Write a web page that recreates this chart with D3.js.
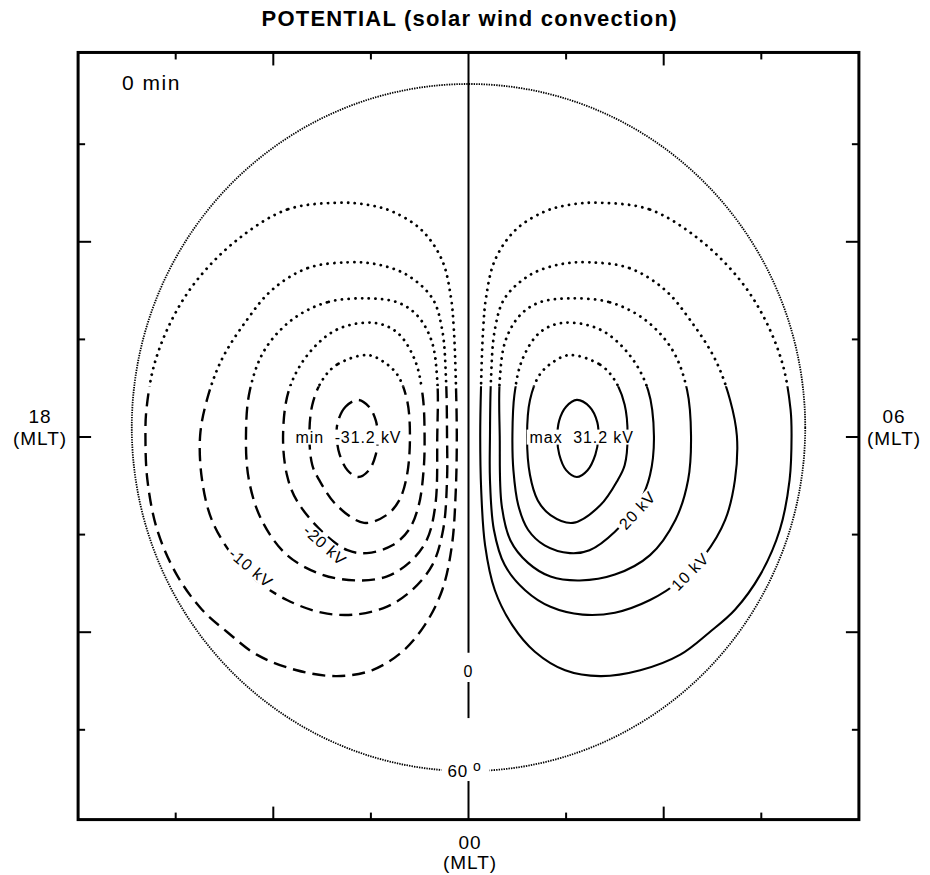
<!DOCTYPE html>
<html><head><meta charset="utf-8">
<script src="https://cdn.jsdelivr.net/npm/d3@7/dist/d3.min.js"></script>
<style>body{margin:0;background:#fff} text{font-family:"Liberation Sans",Arial,Helvetica,sans-serif;fill:#000;white-space:pre}</style>
</head><body><svg id="c" width="930" height="875"></svg>
<script>
// ---------- DATA (chart units: 1 unit = one frame tick; origin = pole) ----------
const levels = [5, 10, 15, 20, 25, 30];           // kV contour levels
const maxPotential = 31.2, minPotential = -31.2;
const boundaryRx = 3.45, boundaryRy = 3.52, boundaryCy = 0.097;   // 60 deg latitude boundary (units)
const styleSwitchY = 0.52;                        // above: dotted (dayside) ; below: solid / dashed
const xTicks = [-3, -2, -1, 1, 2, 3];
const yTicks = [-3, -2, -1, 0, 1, 2, 3];
const longTicks = [-2, 0, 2];

const pos30 = [[1.11,0.38],[1.24,0.31],[1.32,0.15],[1.33,-0.01],[1.30,-0.18],[1.22,-0.34],[1.11,-0.41],[1.00,-0.34],[0.93,-0.18],[0.91,-0.01],[0.93,0.17],[1.00,0.31]];
const pos25 = [[1.04,0.84],[1.35,0.74],[1.50,0.58],[1.60,0.33],[1.63,0.01],[1.60,-0.29],[1.53,-0.44],[1.35,-0.70],[1.07,-0.88],[0.84,-0.80],[0.71,-0.65],[0.63,-0.39],[0.60,0.01],[0.63,0.38],[0.73,0.64],[0.87,0.77]];
const pos20 = [[0.97,1.17],[1.35,1.10],[1.65,0.84],[1.84,0.48],[1.90,0.01],[1.86,-0.39],[1.76,-0.65],[1.50,-0.97],[1.24,-1.16],[1.04,-1.19],[0.78,-1.11],[0.61,-0.95],[0.51,-0.70],[0.46,-0.34],[0.45,0.01],[0.47,0.43],[0.55,0.79],[0.73,1.07]];
const pos15 = [[1.04,1.42],[1.45,1.38],[1.81,1.20],[2.09,0.89],[2.24,0.48],[2.28,0.01],[2.25,-0.44],[2.12,-0.85],[1.86,-1.21],[1.50,-1.41],[1.14,-1.47],[0.84,-1.43],[0.61,-1.29],[0.43,-1.06],[0.34,-0.70],[0.32,0.01],[0.32,0.58],[0.38,0.99],[0.53,1.25],[0.73,1.38]];
const pos10 = [[1.24,1.79],[1.65,1.73],[2.01,1.51],[2.27,1.20],[2.53,0.79],[2.68,0.38],[2.75,0.01],[2.73,-0.44],[2.63,-0.85],[2.42,-1.21],[2.17,-1.47],[1.86,-1.67],[1.50,-1.80],[1.17,-1.82],[0.84,-1.74],[0.58,-1.57],[0.37,-1.31],[0.26,-0.95],[0.22,-0.44],[0.22,0.01],[0.23,0.58],[0.27,1.10],[0.37,1.42],[0.63,1.66],[0.94,1.77]];
const pos5 = [[1.35,2.40],[1.86,2.33],[2.37,2.02],[2.78,1.61],[3.04,1.20],[3.22,0.74],[3.30,0.28],[3.31,0.01],[3.29,-0.44],[3.19,-0.95],[2.99,-1.41],[2.73,-1.77],[2.47,-2.00],[2.17,-2.23],[1.76,-2.39],[1.35,-2.45],[0.99,-2.39],[0.68,-2.20],[0.45,-1.93],[0.27,-1.57],[0.17,-1.11],[0.13,-0.54],[0.12,0.01],[0.13,0.58],[0.15,1.10],[0.18,1.43],[0.27,1.81],[0.48,2.12],[0.78,2.31],[1.04,2.38]];

const neg30 = [[-1.13,0.38],[-1.26,0.31],[-1.34,0.15],[-1.35,-0.01],[-1.32,-0.18],[-1.24,-0.34],[-1.13,-0.41],[-1.02,-0.34],[-0.95,-0.18],[-0.93,-0.01],[-0.95,0.17],[-1.02,0.31]];
const neg25 = [[-1.04,0.84],[-1.35,0.74],[-1.50,0.58],[-1.60,0.33],[-1.63,0.01],[-1.60,-0.29],[-1.53,-0.44],[-1.35,-0.70],[-1.07,-0.88],[-0.84,-0.80],[-0.71,-0.65],[-0.63,-0.39],[-0.60,0.01],[-0.63,0.38],[-0.73,0.64],[-0.87,0.77]];
const neg20 = [[-0.97,1.17],[-1.35,1.10],[-1.65,0.84],[-1.84,0.48],[-1.90,0.01],[-1.86,-0.39],[-1.76,-0.65],[-1.50,-0.97],[-1.24,-1.16],[-1.04,-1.19],[-0.78,-1.11],[-0.61,-0.95],[-0.51,-0.70],[-0.46,-0.34],[-0.45,0.01],[-0.47,0.43],[-0.55,0.79],[-0.73,1.07]];
const neg15 = [[-1.04,1.42],[-1.45,1.38],[-1.81,1.20],[-2.09,0.89],[-2.24,0.48],[-2.28,0.01],[-2.25,-0.44],[-2.12,-0.85],[-1.86,-1.21],[-1.50,-1.41],[-1.14,-1.47],[-0.84,-1.43],[-0.61,-1.29],[-0.43,-1.06],[-0.34,-0.70],[-0.32,0.01],[-0.32,0.58],[-0.38,0.99],[-0.53,1.25],[-0.73,1.38]];
const neg10 = [[-1.24,1.79],[-1.65,1.73],[-2.01,1.51],[-2.27,1.20],[-2.53,0.79],[-2.68,0.38],[-2.75,0.01],[-2.73,-0.44],[-2.63,-0.85],[-2.42,-1.21],[-2.17,-1.47],[-1.86,-1.67],[-1.50,-1.80],[-1.17,-1.82],[-0.84,-1.74],[-0.58,-1.57],[-0.37,-1.31],[-0.26,-0.95],[-0.22,-0.44],[-0.22,0.01],[-0.23,0.58],[-0.27,1.10],[-0.37,1.42],[-0.63,1.66],[-0.94,1.77]];
const neg5 = [[-1.35,2.40],[-1.86,2.33],[-2.37,2.02],[-2.78,1.61],[-3.04,1.20],[-3.22,0.74],[-3.30,0.28],[-3.31,0.01],[-3.29,-0.44],[-3.19,-0.95],[-2.99,-1.41],[-2.73,-1.77],[-2.47,-2.00],[-2.17,-2.23],[-1.76,-2.39],[-1.35,-2.45],[-0.99,-2.39],[-0.68,-2.20],[-0.45,-1.93],[-0.27,-1.57],[-0.17,-1.11],[-0.13,-0.54],[-0.12,0.01],[-0.13,0.58],[-0.15,1.10],[-0.18,1.43],[-0.27,1.81],[-0.48,2.12],[-0.78,2.31],[-1.04,2.38]];

const centerLineSegments = [[3.94, -2.21], [-2.51, -2.88], [-3.38, -3.92]];

const labelTexts  = ["max  31.2 kV", "min  -31.2 kV", "20 kV", "10 kV", "-20 kV", "-10 kV", "0"];
const labelX      = [1.16, -1.23, 1.73, 2.27, -1.47, -2.23, 0.0];
const labelY      = [0.0, 0.0, -0.75, -1.38, -1.11, -1.34, -2.40];
const labelAngle  = [0, 0, -47, -45, 42, 40, 0];

// ---------- SCALES ----------
const svg = d3.select("#c");
const cx = 468.5, cy = 437, unit = 97.6;
const x = d3.scaleLinear().domain([-4, 4]).range([cx - 4 * unit, cx + 4 * unit]);
const y = d3.scaleLinear().domain([-4, 4]).range([cy + 4 * unit, cy - 4 * unit]);
const frameX = 4, frameTop = 3.94, frameBottom = -3.92;

const defs = svg.append("defs");
defs.append("clipPath").attr("id", "upper").append("rect")
  .attr("x", 0).attr("y", 0).attr("width", 930).attr("height", y(styleSwitchY));
defs.append("clipPath").attr("id", "lower").append("rect")
  .attr("x", 0).attr("y", y(styleSwitchY)).attr("width", 930).attr("height", 875 - y(styleSwitchY));

// boundary (60 deg)
svg.append("ellipse").attr("cx", x(0)).attr("cy", y(boundaryCy))
  .attr("rx", x(boundaryRx) - x(0)).attr("ry", y(0) - y(boundaryRy))
  .attr("fill", "none").attr("stroke", "#000").attr("stroke-width", 1.8).attr("stroke-dasharray", "1.4,1.1");

const line = d3.line().x(d => x(d[0])).y(d => y(d[1])).curve(d3.curveCatmullRomClosed.alpha(0.5));
const contours = [
  {v: 5, p: pos5}, {v: 10, p: pos10}, {v: 15, p: pos15}, {v: 20, p: pos20}, {v: 25, p: pos25}, {v: 30, p: pos30},
  {v: -5, p: neg5}, {v: -10, p: neg10}, {v: -15, p: neg15}, {v: -20, p: neg20}, {v: -25, p: neg25}, {v: -30, p: neg30}
];
const g = svg.append("g");
contours.forEach(c => {
  g.append("path").attr("d", line(c.p)).attr("clip-path", "url(#lower)")
    .attr("fill", "none").attr("stroke", "#000").attr("stroke-width", c.v > 0 ? 2.1 : 2.4)
    .attr("stroke-dasharray", c.v > 0 ? null : "13,7");
  g.append("path").attr("d", line(c.p)).attr("clip-path", "url(#upper)")
    .attr("fill", "none").attr("stroke", "#000").attr("stroke-width", 2.8)
    .attr("stroke-linecap", "round").attr("stroke-dasharray", "0.1,6.6");
});

// zero line
centerLineSegments.forEach(s => {
  svg.append("line").attr("x1", x(0)).attr("x2", x(0)).attr("y1", y(s[0])).attr("y2", y(s[1]))
    .attr("stroke", "#000").attr("stroke-width", 2);
});

// contour labels with white backing
labelTexts.forEach((t, i) => {
  const lg = svg.append("g").attr("transform", `translate(${x(labelX[i])},${y(labelY[i])}) rotate(${labelAngle[i]})`);
  const r = lg.append("rect").attr("fill", "#fff");
  const tx = lg.append("text").attr("text-anchor", "middle").attr("dy", "0.35em")
    .attr("font-size", 16).attr("letter-spacing", 0.9).text(t);
  const b = tx.node().getBBox();
  r.attr("x", b.x - 3).attr("y", b.y + 1).attr("width", b.width + 6).attr("height", b.height - 2);
});

// 60 deg label
const lab60 = svg.append("g").attr("transform", `translate(${x(0) - 4},${y(boundaryCy - boundaryRy)})`);
const r60 = lab60.append("rect").attr("fill", "#fff");
const t60 = lab60.append("text").attr("text-anchor", "middle").attr("dy", "0.35em").attr("font-size", 17).attr("letter-spacing", 0.8);
t60.append("tspan").text("60");
t60.append("tspan").attr("dx", 5).attr("dy", -6).attr("font-size", 14).text("o");
const b60 = t60.node().getBBox();
r60.attr("x", b60.x - 6).attr("y", b60.y + 2).attr("width", b60.width + 14).attr("height", b60.height - 2);

// frame
svg.append("rect").attr("x", x(-frameX)).attr("y", y(frameTop)).attr("width", x(frameX) - x(-frameX))
  .attr("height", y(frameBottom) - y(frameTop)).attr("fill", "none").attr("stroke", "#000").attr("stroke-width", 3);
const tk = d => longTicks.includes(d) ? 13 : 7;
xTicks.forEach(d => {
  svg.append("line").attr("x1", x(d)).attr("x2", x(d)).attr("y1", y(frameTop)).attr("y2", y(frameTop) + tk(d)).attr("stroke", "#000").attr("stroke-width", 2);
  svg.append("line").attr("x1", x(d)).attr("x2", x(d)).attr("y1", y(frameBottom)).attr("y2", y(frameBottom) - tk(d)).attr("stroke", "#000").attr("stroke-width", 2);
});
yTicks.forEach(d => {
  svg.append("line").attr("x1", x(-frameX)).attr("x2", x(-frameX) + tk(d)).attr("y1", y(d)).attr("y2", y(d)).attr("stroke", "#000").attr("stroke-width", 2);
  svg.append("line").attr("x1", x(frameX)).attr("x2", x(frameX) - tk(d)).attr("y1", y(d)).attr("y2", y(d)).attr("stroke", "#000").attr("stroke-width", 2);
});

// texts
svg.append("text").attr("x", 469).attr("y", 26).attr("text-anchor", "middle").attr("font-size", 22)
  .attr("font-weight", "bold").attr("textLength", 415).attr("lengthAdjust", "spacing").text("POTENTIAL (solar wind convection)");
svg.append("text").attr("x", 122).attr("y", 90).attr("font-size", 21).attr("letter-spacing", 1.5).text("0 min");
const side = [["18", 40], ["06", 894]];
side.forEach(s => {
  svg.append("text").attr("x", s[1]).attr("y", 423).attr("text-anchor", "middle").attr("font-size", 19).attr("letter-spacing", 1).text(s[0]);
  svg.append("text").attr("x", s[1]).attr("y", 445).attr("text-anchor", "middle").attr("font-size", 19).attr("letter-spacing", 1).text("(MLT)");
});
svg.append("text").attr("x", 470).attr("y", 849).attr("text-anchor", "middle").attr("font-size", 19).attr("letter-spacing", 1).text("00");
svg.append("text").attr("x", 470).attr("y", 869).attr("text-anchor", "middle").attr("font-size", 19).attr("letter-spacing", 1).text("(MLT)");
</script></body></html>
